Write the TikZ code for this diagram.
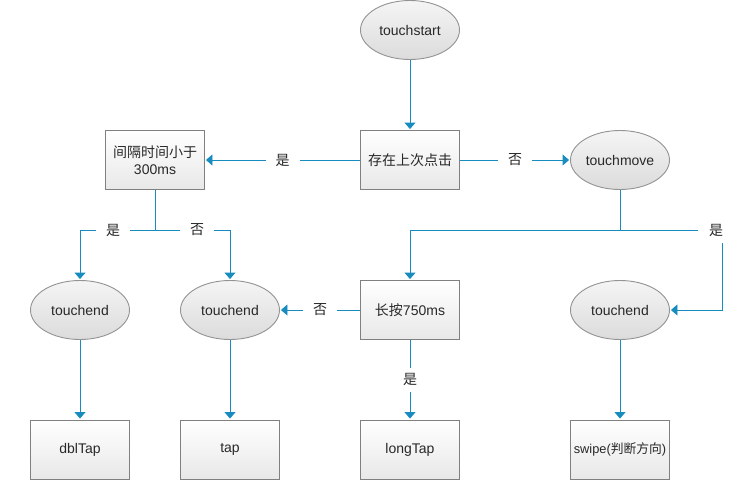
\documentclass[tikz,border=0pt]{standalone}
\usepackage{fontspec}
\setmainfont{Liberation Sans}
\newfontfamily\cjk{Noto Sans CJK SC}
\usetikzlibrary{arrows.meta,shapes.geometric}
\definecolor{linec}{RGB}{24,140,190}
\definecolor{bordc}{RGB}{128,128,128}
\definecolor{txtc}{RGB}{40,40,40}
\tikzset{
  boxn/.style={draw=bordc, line width=0.9pt, top color=white, bottom color=black!9, minimum width=99pt, minimum height=59pt, inner sep=0pt, text=txtc, font=\fontsize{14}{17}\selectfont, align=center},
  elln/.style={ellipse, draw=bordc!85, line width=0.9pt, top color=white!96!black, bottom color=black!14, minimum width=99pt, minimum height=59pt, inner sep=0pt, text=txtc, font=\fontsize{14}{17}\selectfont},
  conn/.style={draw=linec, line width=0.9pt},
  arr/.style={conn, -{Triangle[width=11pt,length=6.5pt]}, shorten >=1pt},
  lbl/.style={fill=white, text=txtc, inner xsep=10pt, inner ysep=4pt, font=\cjk\fontsize{14}{17}\selectfont}
}
\begin{document}
\begin{tikzpicture}[x=1pt,y=-1pt]
\useasboundingbox (0,0) rectangle (733,480);
% nodes
\node[elln] (ts) at (410,30) {touchstart};
\node[boxn] (cz) at (410,160) {\cjk 存在上次点击};
\node[boxn] (jg) at (155,160) {{\cjk 间隔时间小于}\\300ms};
\node[elln] (tm) at (620,160) {touchmove};
\node[elln] (te1) at (80,310) {touchend};
\node[elln] (te2) at (230,310) {touchend};
\node[boxn] (ca) at (410,310) {{\cjk 长按}750ms};
\node[elln] (te3) at (620,310) {touchend};
\node[boxn] (dbl) at (80,449.5) {dblTap};
\node[boxn] (tap) at (230,449.5) {tap};
\node[boxn] (lt) at (410,449.5) {longTap};
\node[boxn, font=\fontsize{12.8}{16}\selectfont] (sw) at (620,449.5) {swipe({\cjk 判断方向})};
\coordinate (j1) at (155,230);
\coordinate (m1) at (620,230);
\coordinate (m2) at (722,230);
% connectors
\draw[arr] (ts) -- (cz);
\draw[arr] (cz) -- node[lbl, pos=0.5]{是} (jg);
\draw[arr] (cz) -- node[lbl, pos=0.5]{否} (tm);
\draw[conn] (jg.south) -- (j1);
\draw[arr] (j1) -| node[lbl, pos=0.28]{是} (te1.north);
\draw[arr] (j1) -| node[lbl, pos=0.28]{否} (te2.north);
\draw[conn] (tm.south) -- (m1);
\draw[arr] (m1) -| (ca.north);
\draw[arr] (m1) -- (m2) |- (te3.east);
\node[lbl, minimum width=36pt, minimum height=26pt, inner sep=0pt] at (716,230) {是};
\draw[arr] (ca) -- node[lbl]{否} (te2);
\draw[arr] (ca) -- node[lbl, inner xsep=2pt, inner ysep=6pt]{是} (lt);
\draw[arr] (te1) -- (dbl);
\draw[arr] (te2) -- (tap);
\draw[arr] (te3) -- (sw);
\end{tikzpicture}
\end{document}
